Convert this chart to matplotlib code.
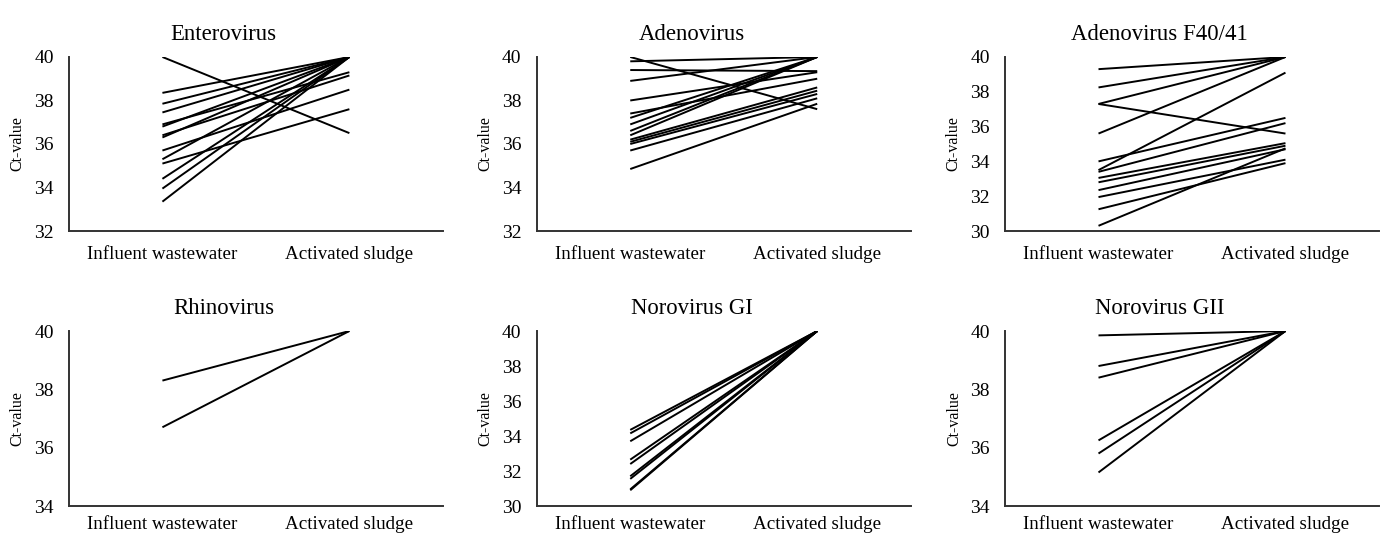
import matplotlib
matplotlib.use("Agg")
import matplotlib.pyplot as plt

categories = ["Influent wastewater", "Activated sludge"]

entero_influent = [40.0, 38.35, 37.85, 37.45, 36.9, 36.8, 36.4, 36.3, 35.7, 35.3, 35.1, 34.4, 33.95, 33.35]
entero_sludge   = [36.5, 40.0, 40.0, 40.0, 39.3, 40.0, 39.15, 40.0, 38.5, 40.0, 37.6, 40.0, 40.0, 40.0]

adeno_influent = [40.0, 39.8, 39.4, 38.9, 38.0, 37.4, 37.2, 36.9, 36.6, 36.4, 36.2, 36.1, 36.0, 35.7, 34.85]
adeno_sludge   = [37.6, 40.0, 39.35, 40.0, 39.3, 39.0, 40.0, 40.0, 40.0, 40.0, 38.6, 38.45, 38.3, 38.1, 37.85]

f4041_influent = [39.3, 38.25, 37.3, 37.3, 35.6, 34.0, 33.5, 33.4, 33.05, 32.8, 32.35, 31.95, 31.25, 30.3]
f4041_sludge   = [40.0, 40.0, 40.0, 35.6, 40.0, 36.5, 39.1, 36.2, 35.05, 34.9, 34.7, 34.1, 33.9, 34.75]

rhino_influent = [38.3, 36.7]
rhino_sludge   = [40.0, 40.0]

norogi_influent = [34.35, 34.15, 33.7, 32.65, 32.4, 31.7, 31.55, 30.95, 30.9]
norogi_sludge   = [40.0] * 9

norogii_influent = [39.85, 38.8, 38.4, 36.25, 35.8, 35.15]
norogii_sludge   = [40.0] * 6

panels = [
    ("Enterovirus", entero_influent, entero_sludge, (32, 40)),
    ("Adenovirus", adeno_influent, adeno_sludge, (32, 40)),
    ("Adenovirus F40/41", f4041_influent, f4041_sludge, (30, 40)),
    ("Rhinovirus", rhino_influent, rhino_sludge, (34, 40)),
    ("Norovirus GI", norogi_influent, norogi_sludge, (30, 40)),
    ("Norovirus GII", norogii_influent, norogii_sludge, (34, 40)),
]

plt.rcParams['font.family'] = ['Liberation Serif', 'DejaVu Serif']

fig = plt.figure(figsize=(13.87, 5.37), dpi=100)
lefts = [0.0497, 0.387, 0.7246]
bottoms = [0.5698, 0.0577]
width = 0.2696
heights = [0.3241, 0.3259]
xpads = [11, 7.5]

for i, (title, inf, slu, ylim) in enumerate(panels):
    r, c = divmod(i, 3)
    ax = fig.add_axes([lefts[c], bottoms[r], width, heights[r]])
    for a, b in zip(inf, slu):
        ax.plot([0.5, 1.5], [a, b], color='black', lw=1.4, solid_capstyle='butt')
    ax.set_xlim(0, 2)
    ax.set_ylim(*ylim)
    ax.set_yticks(range(ylim[0], ylim[1] + 1, 2))
    ax.set_xticks([0.5, 1.5])
    ax.set_xticklabels(categories, fontsize=13.7)
    ax.tick_params(axis='both', length=0)
    ax.tick_params(axis='x', pad=xpads[r])
    ax.tick_params(axis='y', labelsize=14, pad=11)
    for s in ['top', 'right']:
        ax.spines[s].set_visible(False)
    for s in ['left', 'bottom']:
        ax.spines[s].set_color('#333333')
        ax.spines[s].set_linewidth(1.4)
    ax.set_ylabel("Ct-value", fontsize=11.5, labelpad=6)
    ax.set_title(title, fontsize=16.4, pad=12, x=0.414)

fig.savefig("out.png", dpi=100)
